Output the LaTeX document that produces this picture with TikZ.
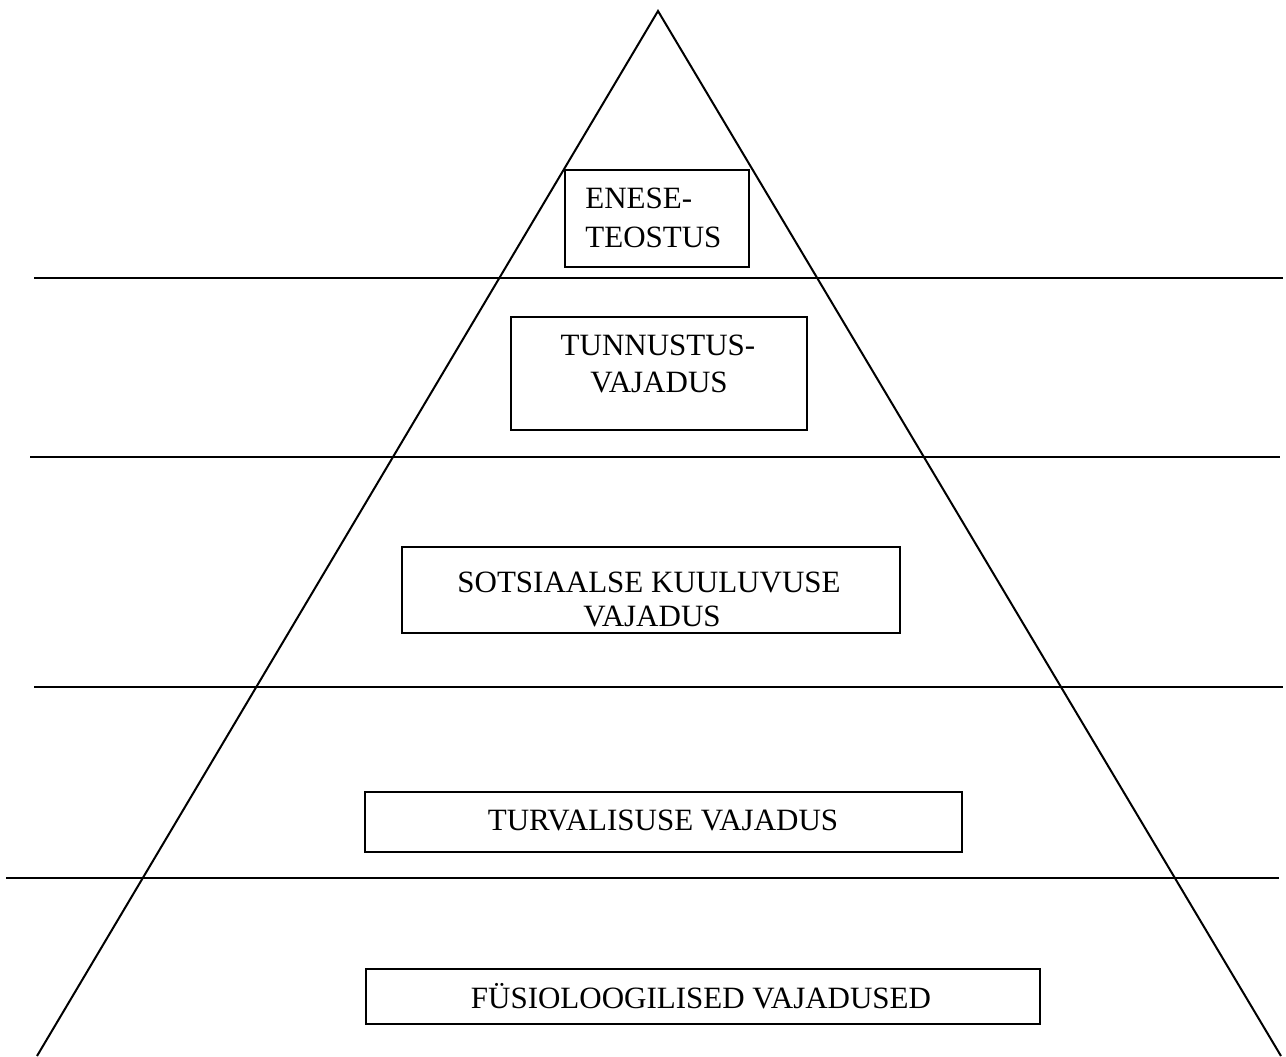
\documentclass[tikz,border=0pt]{standalone}
\usepackage{fontspec}
\setmainfont{Liberation Serif}
\begin{document}
\begin{tikzpicture}[x=0.5pt,y=-0.5pt,
  edge/.style={line width=1pt, draw=black},
  boxnode/.style={draw=black, line width=1pt, inner sep=0pt, anchor=north west},
  txt/.style={inner sep=0pt, anchor=base, font=\fontsize{15.5}{18.5}\selectfont},
  txtl/.style={txt, anchor=base west}]
\useasboundingbox (0,0) rectangle (1286,1056);
% pyramid
\coordinate (apex) at (658,11);
\coordinate (bl) at (37,1056);
\coordinate (br) at (1281,1056);
\draw[edge] (bl) -- (apex) -- (br);
% level separators
\coordinate (l1a) at (34,277.5);  \coordinate (l1b) at (1283,277.5);
\coordinate (l2a) at (30,457);    \coordinate (l2b) at (1280,457);
\coordinate (l3a) at (34,687);    \coordinate (l3b) at (1283,687);
\coordinate (l4a) at (6,878);     \coordinate (l4b) at (1279,878);
\draw[edge] (l1a) -- (l1b);
\draw[edge] (l2a) -- (l2b);
\draw[edge] (l3a) -- (l3b);
\draw[edge] (l4a) -- (l4b);
% boxes
\node[boxnode, minimum width=92pt, minimum height=48.5pt] (b1) at (564,169) {};
\node[boxnode, minimum width=148pt, minimum height=56.5pt] (b2) at (510,316) {};
\node[boxnode, minimum width=249pt, minimum height=43pt] (b3) at (401,546) {};
\node[boxnode, minimum width=298.5pt, minimum height=30pt] (b4) at (364,791) {};
\node[boxnode, minimum width=337pt, minimum height=27.5pt] (b5) at (365,968) {};
% texts
\node[txtl] (t1a) at (585,208) {ENESE-};
\node[txtl] (t1b) at (585,247) {TEOSTUS};
\node[txt] (t2a) at (658,355) {TUNNUSTUS-};
\node[txt] (t2b) at (659,392) {VAJADUS};
\node[txt] (t3a) at (649,592) {SOTSIAALSE KUULUVUSE};
\node[txt] (t3b) at (652,626) {VAJADUS};
\node[txt] (t4) at (663,830) {TURVALISUSE VAJADUS};
\node[txt] (t5) at (701,1008) {FÜSIOLOOGILISED VAJADUSED};
\end{tikzpicture}
\end{document}
